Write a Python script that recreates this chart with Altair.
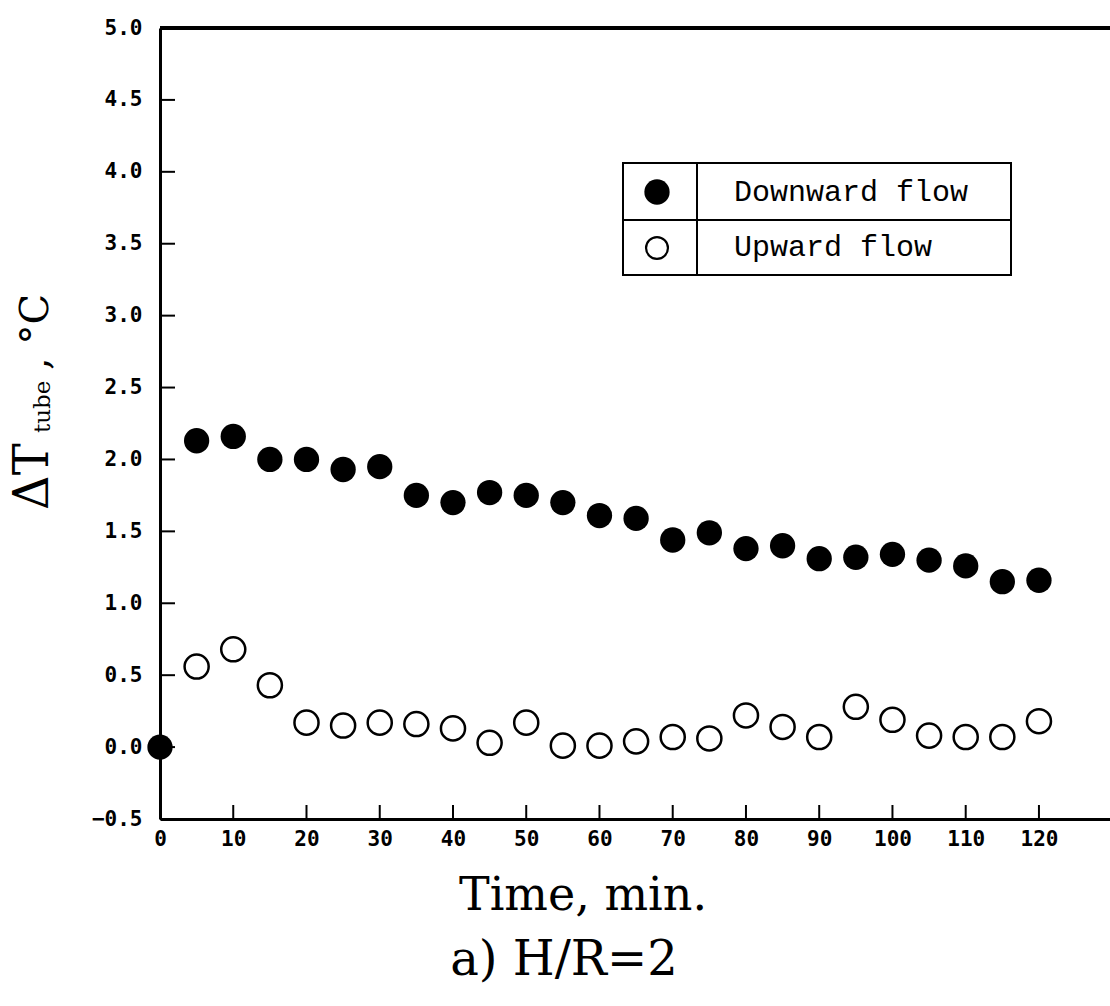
import altair as alt
import pandas as pd

# ---- data ----
time_down = [0, 5, 10, 15, 20, 25, 30, 35, 40, 45, 50, 55, 60, 65, 70, 75, 80, 85, 90, 95, 100, 105, 110, 115, 120]
dt_down = [0.0, 2.13, 2.16, 2.0, 2.0, 1.93, 1.95, 1.75, 1.70, 1.77, 1.75, 1.70, 1.61, 1.59, 1.44, 1.49,
           1.38, 1.40, 1.31, 1.32, 1.34, 1.30, 1.26, 1.15, 1.16]
time_up = [5, 10, 15, 20, 25, 30, 35, 40, 45, 50, 55, 60, 65, 70, 75, 80, 85, 90, 95, 100, 105, 110, 115, 120]
dt_up = [0.56, 0.68, 0.43, 0.17, 0.15, 0.17, 0.16, 0.13, 0.03, 0.17, 0.01, 0.01, 0.04, 0.07, 0.06,
         0.22, 0.14, 0.07, 0.28, 0.19, 0.08, 0.07, 0.07, 0.18]
series_names = ["Downward flow", "Upward flow"]
x_ticks = [0, 10, 20, 30, 40, 50, 60, 70, 80, 90, 100, 110, 120]
y_ticks = [-0.5, 0.0, 0.5, 1.0, 1.5, 2.0, 2.5, 3.0, 3.5, 4.0, 4.5, 5.0]
x_title = "Time,  min."
caption = "a) H/R=2"

W, H = 950, 791
df_down = pd.DataFrame({"t": time_down, "v": dt_down})
df_up = pd.DataFrame({"t": time_up, "v": dt_up})
df_xt = pd.DataFrame({"t": x_ticks})
df_yt = pd.DataFrame({"v": y_ticks})

xs = alt.Scale(domain=[0, 129.7], nice=False, zero=False)
ys = alt.Scale(domain=[-0.5, 5.0], nice=False, zero=False)

LABEL_FONT = "DejaVu Sans Mono"
LEGEND_FONT = "Liberation Mono"

xaxis = alt.Axis(values=x_ticks, format="d", ticks=False, grid=False, domainWidth=3,
                 domainColor="black", labelFont=LABEL_FONT, labelFontWeight="bold",
                 labelFontSize=21, labelColor="black", labelPadding=9, title=None,
                 labelFlush=False)
yaxis = alt.Axis(values=y_ticks, format=".1f", ticks=False, grid=False, domainWidth=3,
                 domainColor="black", labelFont=LABEL_FONT, labelFontWeight="bold",
                 labelFontSize=21, labelColor="black", labelPadding=18, title=None)

def X(f):
    return alt.X(f, scale=xs, axis=xaxis)

def Y(f):
    return alt.Y(f, scale=ys, axis=yaxis)

base_axes = alt.Chart(df_yt).mark_point(opacity=0).encode(x=X("v:Q"), y=Y("v:Q"))

# inward ticks
ytick_marks = alt.Chart(df_yt).mark_rule(color="black", strokeWidth=2).encode(
    y=Y("v:Q"), x=alt.value(0), x2=alt.value(15))
xtick_marks = alt.Chart(df_xt).mark_rule(color="black", strokeWidth=2).encode(
    x=X("t:Q"), y=alt.value(H), y2=alt.value(H - 14))
top_line = alt.Chart(df_xt).mark_rule(color="black", strokeWidth=3).encode(
    x=alt.value(0), x2=alt.value(W), y=alt.value(0))

up_pts = alt.Chart(df_up).mark_point(shape="circle", size=580, filled=False, color="black",
                                     strokeWidth=2.5, opacity=1).encode(x=X("t:Q"), y=Y("v:Q"))
down_pts = alt.Chart(df_down).mark_point(shape="circle", size=640, filled=True, color="black",
                                         opacity=1).encode(x=X("t:Q"), y=Y("v:Q"))

# legend box (drawn as a small table)
one = pd.DataFrame({"k": [0]})
leg_box = alt.Chart(one).mark_rect(fill="white", stroke="black", strokeWidth=2).encode(
    x=alt.value(463), x2=alt.value(851), y=alt.value(135), y2=alt.value(247))
leg_v = alt.Chart(one).mark_rule(color="black", strokeWidth=2).encode(
    x=alt.value(537), y=alt.value(135), y2=alt.value(247))
leg_h = alt.Chart(one).mark_rule(color="black", strokeWidth=2).encode(
    x=alt.value(463), x2=alt.value(851), y=alt.value(192))
leg_sym1 = alt.Chart(one).mark_point(shape="circle", size=640, filled=True, color="black",
                                     opacity=1).encode(x=alt.value(497), y=alt.value(164))
leg_sym2 = alt.Chart(one).mark_point(shape="circle", size=480, filled=False, color="black",
                                     strokeWidth=2.2, opacity=1).encode(x=alt.value(497), y=alt.value(220))
leg_txt1 = alt.Chart(pd.DataFrame({"s": [series_names[0]]})).mark_text(
    align="left", baseline="middle", font=LEGEND_FONT, fontSize=30, color="black").encode(
    x=alt.value(574), y=alt.value(164), text="s:N")
leg_txt2 = alt.Chart(pd.DataFrame({"s": [series_names[1]]})).mark_text(
    align="left", baseline="middle", font=LEGEND_FONT, fontSize=30, color="black").encode(
    x=alt.value(574), y=alt.value(219), text="s:N")

# titles
SERIF = "DejaVu Serif"
def txt(s, x, y, size, angle=0, align="center", baseline="alphabetic"):
    kw = dict(align=align, baseline=baseline, font=SERIF, fontSize=size, color="black")
    if angle:
        kw["angle"] = angle
    return alt.Chart(pd.DataFrame({"s": [s]})).mark_text(**kw).encode(
        x=alt.value(x), y=alt.value(y), text="s:N")

t_x = txt(x_title, 423, 882, 46)
t_cap = txt(caption, 404, 947, 48)
t_dT = txt("\u0394T", -112, 482, 48, angle=270, align="left")
t_sub = txt("tube", -110, 405, 23, angle=270, align="left")
t_deg = txt(", \u00b0C", -112, 342, 40, angle=270, align="left")

chart = alt.layer(
    base_axes, ytick_marks, xtick_marks, top_line, up_pts, down_pts,
    leg_box, leg_v, leg_h, leg_sym1, leg_sym2, leg_txt1, leg_txt2,
    t_x, t_cap, t_dT, t_sub, t_deg,
).properties(
    width=W, height=H,
    autosize=alt.AutoSizeParams(type="none"),
    padding={"left": 160, "top": 28, "right": 0, "bottom": 187},
    background="white",
).configure_view(stroke=None)

chart.save("out.html", embed_options={"renderer": "svg", "actions": False})
